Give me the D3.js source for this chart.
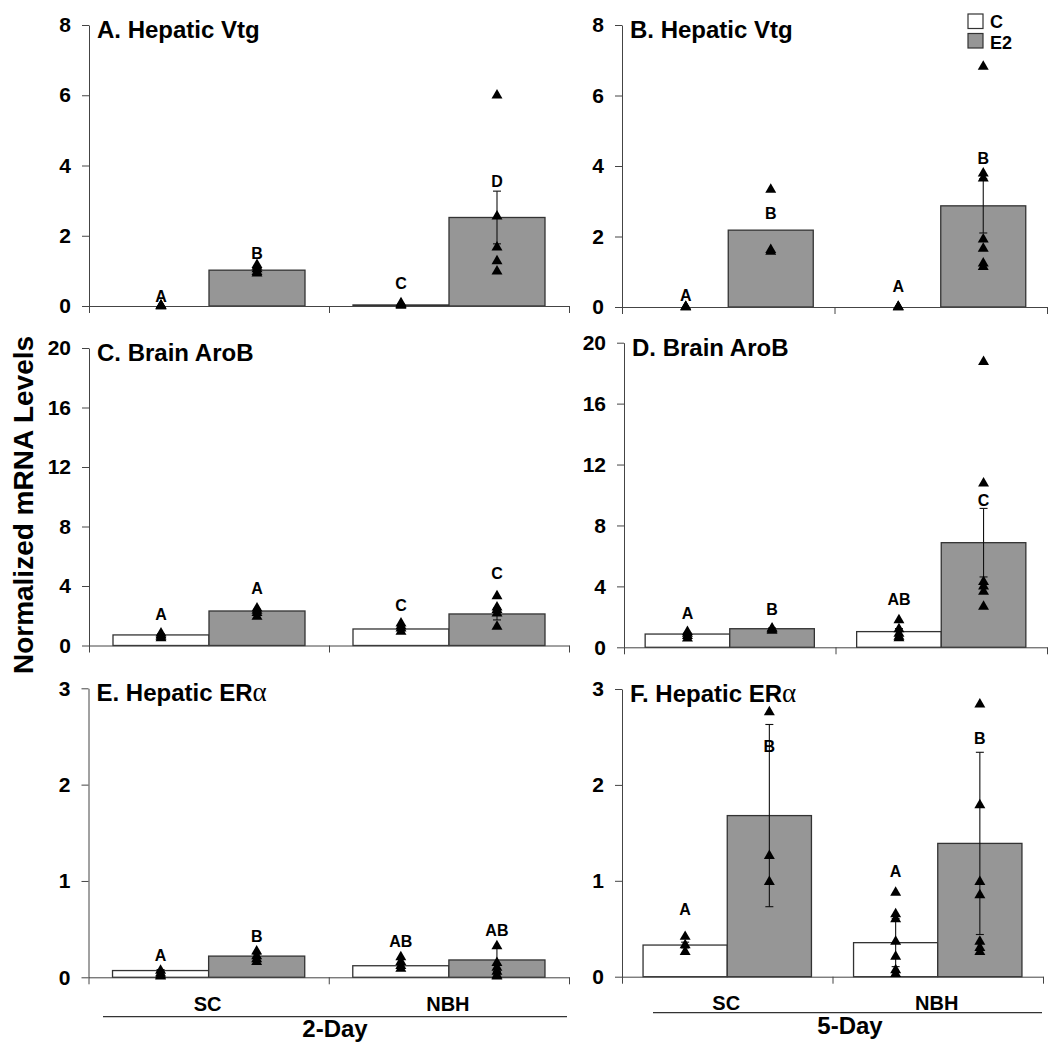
<!DOCTYPE html>
<html><head><meta charset="utf-8">
<script src="https://cdn.jsdelivr.net/npm/d3@7"></script>
<style>
html,body{margin:0;padding:0;background:#fff;}
svg text{font-family:"Liberation Sans",Arial,sans-serif;font-weight:bold;fill:#000;}
</style></head>
<body>
<svg id="chart" width="1049" height="1050"></svg>
<script>
// ---------- data ----------
const categories = ["SC", "NBH"];
const treatments = ["C", "E2"];
const periods = ["2-Day", "5-Day"];
const panelTitles = ["A. Hepatic Vtg", "B. Hepatic Vtg", "C. Brain AroB", "D. Brain AroB", "E. Hepatic ER", "F. Hepatic ER"];
const titleSuffix = ["", "", "", "", "α", "α"];
const yMaxes = [8, 8, 20, 20, 3, 3];
const yTicksVtg = [0, 2, 4, 6, 8];
const yTicksAro = [0, 4, 8, 12, 16, 20];
const yTicksEr = [0, 1, 2, 3];
// each: [SC-C, SC-E2, NBH-C, NBH-E2]
const meansA = [0.0, 1.02, 0.03, 2.52];
const meansB = [0.0, 2.18, 0.0, 2.87];
const meansC = [0.71, 2.32, 1.11, 2.12];
const meansD = [0.87, 1.22, 1.03, 6.87];
const meansE = [0.07, 0.22, 0.12, 0.18];
const meansF = [0.33, 1.68, 0.355, 1.39];
const seA = [0, 0.05, 0.02, 0.75];
const seB = [0, 0, 0, 0.77];
const seC = [0.07, 0.12, 0.12, 0.4];
const seD = [0.08, 0.05, 0.2, 2.25];
const seE = [0.01, 0.02, 0.02, 0.12];
const seF = [0.03, 0.95, 0.25, 0.95];
const pointsA = [[0, 0, 0.01, 0.02], [0.93, 0.97, 1.05, 1.12, 1.17], [0.01, 0.03, 0.05, 0.08], [6.0, 2.55, 1.67, 1.28, 0.99]];
const pointsB = [[0, 0, 0.01], [3.33, 1.62, 1.57], [0, 0, 0.01], [6.82, 3.79, 3.65, 1.92, 1.66, 1.24, 1.14]];
const pointsC = [[0.5, 0.6, 0.7, 0.82], [1.95, 2.2, 2.35, 2.5], [0.93, 1.15, 1.3, 1.49], [1.27, 2.16, 2.4, 2.57, 3.33]];
const pointsD = [[0.59, 0.75, 0.9, 1.02], [1.1, 1.18, 1.25], [0.6, 0.7, 0.9, 1.2, 1.79], [18.75, 10.77, 4.3, 4.0, 3.65, 2.67]];
const pointsE = [[0.01, 0.02, 0.04, 0.07], [0.16, 0.19, 0.22, 0.27], [0.09, 0.12, 0.16, 0.21], [0.325, 0.15, 0.1, 0.06, 0.02, 0.01]];
const pointsF = [[0.26, 0.33, 0.417], [2.76, 1.26, 0.99], [0.876, 0.654, 0.6, 0.365, 0.21, 0.07, 0.03], [2.84, 1.79, 0.99, 0.85, 0.365, 0.3, 0.26]];
const lettersA = ["A", "B", "C", "D"], letterYA = [0.29, 1.51, 0.66, 3.54];
const lettersB = ["A", "B", "A", "B"], letterYB = [0.32, 2.66, 0.6, 4.22];
const lettersC = ["A", "A", "C", "C"], letterYC = [2.1, 3.85, 2.72, 4.85];
const lettersD = ["A", "B", "AB", "C"], letterYD = [2.23, 2.5, 3.15, 9.67];
const lettersE = ["A", "B", "AB", "AB"], letterYE = [0.23, 0.43, 0.37, 0.49];
const lettersF = ["A", "B", "A", "B"], letterYF = [0.7, 2.4, 1.1, 2.49];

// ---------- layout ----------
const layout = [
  {x0: 89, x1: 569, yTop: 25, yZero: 306},
  {x0: 622, x1: 1047, yTop: 25, yZero: 307},
  {x0: 89, x1: 569, yTop: 348, yZero: 645.5},
  {x0: 624, x1: 1047, yTop: 342.7, yZero: 647.3},
  {x0: 88.5, x1: 569, yTop: 688.3, yZero: 977.3},
  {x0: 622, x1: 1043, yTop: 689, yZero: 976.7}
];
const panels = [
  {means: meansA, se: seA, pts: pointsA, let: lettersA, ly: letterYA, ticks: yTicksVtg},
  {means: meansB, se: seB, pts: pointsB, let: lettersB, ly: letterYB, ticks: yTicksVtg},
  {means: meansC, se: seC, pts: pointsC, let: lettersC, ly: letterYC, ticks: yTicksAro},
  {means: meansD, se: seD, pts: pointsD, let: lettersD, ly: letterYD, ticks: yTicksAro},
  {means: meansE, se: seE, pts: pointsE, let: lettersE, ly: letterYE, ticks: yTicksEr},
  {means: meansF, se: seF, pts: pointsF, let: lettersF, ly: letterYF, ticks: yTicksEr}
];
const fills = {C: "#ffffff", E2: "#969696"};
const svg = d3.select("#chart");
const axisColor = "#444";

panels.forEach((p, i) => {
  const L = layout[i];
  const g = svg.append("g");
  const y = d3.scaleLinear().domain([0, yMaxes[i]]).range([L.yZero, L.yTop]);
  const xCat = d3.scaleBand().domain(categories).range([L.x0, L.x1]).paddingInner(0).paddingOuter(0);
  const bw = xCat.bandwidth() * 0.4;
  const xTr = d3.scaleBand().domain(treatments).range([0, bw * 2]);
  const groups = [];
  categories.forEach((c, ci) => treatments.forEach((t, ti) => {
    const k = ci * 2 + ti;
    groups.push({c, t, mean: p.means[k], se: p.se[k], pts: p.pts[k], lab: p.let[k], ly: p.ly[k],
      x: xCat(c) + xCat.bandwidth() / 2 - bw + xTr(t)});
  }));
  // bars
  g.selectAll("rect.bar").data(groups).join("rect")
    .attr("x", d => d.x).attr("width", bw)
    .attr("y", d => y(d.mean)).attr("height", d => y(0) - y(d.mean))
    .attr("fill", d => fills[d.t]).attr("stroke", "#333").attr("stroke-width", 1.3);
  // error bars
  const eb = groups.filter(d => d.se > 0);
  g.selectAll("line.err").data(eb).join("line")
    .attr("x1", d => d.x + bw / 2).attr("x2", d => d.x + bw / 2)
    .attr("y1", d => y(d.mean + d.se)).attr("y2", d => y(Math.max(0, d.mean - d.se)))
    .attr("stroke", "#111").attr("stroke-width", 1.1);
  ["+", "-"].forEach(s => {
    g.selectAll("line.cap" + (s === "+" ? "u" : "d")).data(eb).join("line")
      .attr("x1", d => d.x + bw / 2 - 4).attr("x2", d => d.x + bw / 2 + 4)
      .attr("y1", d => y(s === "+" ? d.mean + d.se : Math.max(0, d.mean - d.se)))
      .attr("y2", d => y(s === "+" ? d.mean + d.se : Math.max(0, d.mean - d.se)))
      .attr("stroke", "#111").attr("stroke-width", 1.1);
  });
  // axes
  const ya = g.append("g").attr("transform", `translate(${L.x0},0)`)
    .call(d3.axisLeft(y).tickValues(p.ticks).tickSize(7).tickSizeOuter(0).tickPadding(11).tickFormat(d3.format("d")));
  ya.select(".domain").attr("stroke", axisColor);
  ya.selectAll(".tick line").attr("stroke", axisColor);
  ya.selectAll("text").attr("font-size", 21).attr("font-family", "Liberation Sans, Arial, sans-serif").attr("font-weight", "bold").attr("fill", "#000");
  const xb = d3.scaleLinear().domain([0, categories.length]).range([L.x0, L.x1]);
  const xa = g.append("g").attr("transform", `translate(0,${L.yZero})`)
    .call(d3.axisBottom(xb).tickValues(d3.range(categories.length + 1)).tickSize(7).tickSizeOuter(0).tickFormat(""));
  xa.select(".domain").attr("stroke", axisColor);
  xa.selectAll(".tick line").attr("stroke", axisColor);
  // points
  const tri = d3.symbol().type(d3.symbolTriangle).size(52);
  groups.forEach(d => {
    g.selectAll(null).data(d.pts).join("path")
      .attr("d", tri)
      .attr("transform", v => `translate(${d.x + bw / 2},${y(v)})`)
      .attr("fill", "#000");
  });
  // letters
  g.selectAll("text.lab").data(groups).join("text")
    .attr("x", d => d.x + bw / 2).attr("y", d => y(d.ly)).attr("dy", "0.36em")
    .attr("text-anchor", "middle").attr("font-size", 16).text(d => d.lab);
  // title
  const tt = g.append("text").attr("x", L.x0 + 8).attr("y", L.yTop + 13).attr("font-size", 24).text(panelTitles[i]);
  if (titleSuffix[i]) tt.append("tspan").attr("font-family", "Liberation Serif, DejaVu Serif, serif").attr("font-weight", "normal").attr("font-size", 27).text(titleSuffix[i]);
  // bottom row category labels
  if (i >= 4) {
    const side = i - 4;
    g.selectAll("text.cat").data(categories).join("text")
      .attr("x", c => xCat(c) + xCat.bandwidth() / 2 - 1).attr("y", side === 0 ? 1011 : 1010)
      .attr("text-anchor", "middle").attr("font-size", 20).text(c => c);
  }
});

// period brackets
const periodLines = [{x1: 103, x2: 567, y: 1016.7, ty: 1037, tx: 335}, {x1: 653, x2: 1042, y: 1012.7, ty: 1034, tx: 850}];
periods.forEach((pname, k) => {
  const P = periodLines[k];
  svg.append("line").attr("x1", P.x1).attr("x2", P.x2).attr("y1", P.y).attr("y2", P.y).attr("stroke", "#333").attr("stroke-width", 1.2);
  svg.append("text").attr("x", P.tx).attr("y", P.ty).attr("text-anchor", "middle").attr("font-size", 24).text(pname);
});

// y label
svg.append("text").attr("transform", "translate(33,505) rotate(-90)").attr("text-anchor", "middle")
  .attr("font-size", 28).text("Normalized mRNA Levels");

// legend
const lg = svg.append("g");
treatments.forEach((t, k) => {
  lg.append("rect").attr("x", 968).attr("y", 14 + k * 19.5).attr("width", 15).attr("height", 14.5)
    .attr("fill", fills[t]).attr("stroke", "#333").attr("stroke-width", 1.2);
  lg.append("text").attr("x", 990).attr("y", 28 + k * 20.5).attr("font-size", 18).text(t);
});
</script>
</body></html>
